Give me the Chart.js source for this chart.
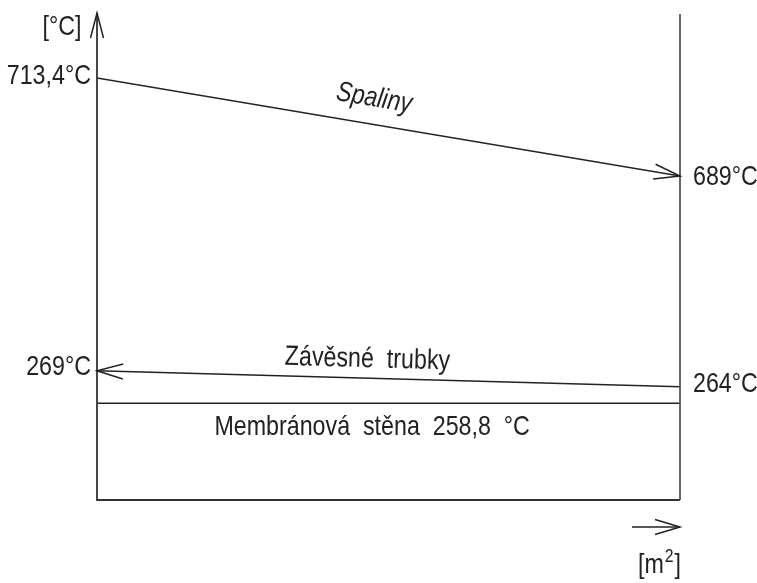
<!DOCTYPE html>
<html>
<head>
<meta charset="utf-8">
<script src="https://cdn.jsdelivr.net/npm/chart.js@4/dist/chart.umd.min.js"></script>
<style>
html,body{margin:0;padding:0;background:#fff;}
#wrap{width:757px;height:583px;position:relative;}
</style>
</head>
<body>
<div id="wrap"><canvas id="c" width="757" height="583"></canvas></div>
<script>
// ---- data (schematic temperature profile, x = relative heating surface) ----
const positions = [0, 1];                       // inlet / outlet of the surface
const spaliny = [713.4, 689];                   // flue gas [°C]
const zavesne = [269, 264];                     // hanging tubes [°C] (flow right -> left)
const membrana = [258.8, 258.8];                // membrane wall [°C]
const seriesNames = ['Spaliny', 'Závěsné trubky', 'Membránová stěna 258,8 °C'];
const leftLabels = ['713,4°C', '269°C'];
const rightLabels = ['689°C', '264°C'];
const yUnit = '[°C]';
const xUnit = ['[m', '2', ']'];   // [m²] with a real superscript

const FONT = "'Liberation Sans',Arial,sans-serif";
const SX = 0.83;   // narrow (CAD-like) lettering
const INK = '#222';

function pts(vals){ return positions.map((x,i)=>({x:x, y:vals[i]})); }

function arrowHead(ctx, tipX, tipY, fromX, fromY, len, half){
  const a = Math.atan2(tipY-fromY, tipX-fromX);
  const bx = tipX - len*Math.cos(a), by = tipY - len*Math.sin(a);
  const nx = -Math.sin(a), ny = Math.cos(a);
  ctx.beginPath();
  ctx.moveTo(bx + nx*half, by + ny*half);
  ctx.lineTo(tipX, tipY);
  ctx.lineTo(bx - nx*half, by - ny*half);
  ctx.stroke();
}

function txt(ctx, text, x, y, align, baseline, font, rot){
  ctx.save();
  ctx.translate(x, y);
  if (rot) ctx.rotate(rot);
  ctx.scale(SX, 1);
  ctx.font = font || ('28px ' + FONT);
  ctx.textAlign = align; ctx.textBaseline = baseline;
  ctx.fillText(text, 0, 0);
  ctx.restore();
}

const schema = {
  id: 'schema',
  afterDatasetsDraw(chart){
    const ctx = chart.ctx, ca = chart.chartArea;
    const xs = chart.scales.x;
    ctx.save();
    // frame
    ctx.strokeStyle = '#333'; ctx.lineWidth = 1.8; ctx.lineCap = 'butt';
    ctx.beginPath();
    ctx.moveTo(ca.left, ca.top); ctx.lineTo(ca.left, ca.bottom); ctx.lineTo(ca.right, ca.bottom);
    ctx.stroke();
    ctx.strokeStyle = '#555';
    ctx.beginPath(); ctx.moveTo(ca.right, ca.top+1); ctx.lineTo(ca.right, ca.bottom); ctx.stroke();
    // y axis arrow
    ctx.strokeStyle = INK; ctx.lineWidth = 1.5;
    arrowHead(ctx, ca.left, ca.top, ca.left, ca.top+50, 25, 6.5);
    // series arrows
    const m0 = chart.getDatasetMeta(0).data, m1 = chart.getDatasetMeta(1).data;
    arrowHead(ctx, m0[1].x, m0[1].y, m0[0].x, m0[0].y, 26, 7.5);
    arrowHead(ctx, m1[0].x, m1[0].y, m1[1].x, m1[1].y, 26, 7.5);
    // value labels
    ctx.fillStyle = INK;
    txt(ctx, leftLabels[0], ca.left - 6, m0[0].y - 2, 'right', 'middle');
    txt(ctx, leftLabels[1], ca.left - 6, m1[0].y - 3, 'right', 'middle');
    txt(ctx, rightLabels[0], ca.right + 13, m0[1].y + 1, 'left', 'middle');
    txt(ctx, rightLabels[1], ca.right + 13, m1[1].y - 2, 'left', 'middle');
    // series names along their lines
    function along(meta, t, text, off, italic){
      const p0 = meta[0], p1 = meta[1];
      const x = p0.x + (p1.x-p0.x)*t, y = p0.y + (p1.y-p0.y)*t;
      const a = Math.atan2(p1.y-p0.y, p1.x-p0.x);
      const ox = Math.sin(a)*off, oy = -Math.cos(a)*off;
      txt(ctx, text, x + ox, y + oy, 'center', 'alphabetic', (italic ? 'italic ' : '') + '28px ' + FONT, a);
    }
    along(m0, 0.468, seriesNames[0], 18, true);
    along(m1, 0.463, seriesNames[1].replace(' ', '  '), 11, false);
    // membrane label under its line
    const m2 = chart.getDatasetMeta(2).data;
    txt(ctx, seriesNames[2].split(' ').join('  '), xs.getPixelForValue(0.472), m2[0].y + 32, 'center', 'alphabetic');
    // axis units
    txt(ctx, yUnit, ca.left - 35, ca.top + 14, 'center', 'middle');
    const ux = ca.right - 42, uy = ca.bottom + 73;
    ctx.font = '28px ' + FONT;
    const w1 = ctx.measureText(xUnit[0]).width * SX;
    txt(ctx, xUnit[0], ux, uy, 'left', 'alphabetic');
    ctx.font = '19px ' + FONT;
    const w2 = ctx.measureText(xUnit[1]).width * SX;
    txt(ctx, xUnit[1], ux + w1 + 1, uy - 11, 'left', 'alphabetic', '19px ' + FONT);
    txt(ctx, xUnit[2], ux + w1 + w2 + 2, uy, 'left', 'alphabetic');
    // x direction arrow
    ctx.lineWidth = 1.5;
    ctx.beginPath(); ctx.moveTo(ca.right - 48, ca.bottom + 27); ctx.lineTo(ca.right, ca.bottom + 27); ctx.stroke();
    arrowHead(ctx, ca.right, ca.bottom + 27, ca.right - 48, ca.bottom + 27, 25, 7.5);
    ctx.restore();
  }
};

const lineStyle = {showLine:true, pointRadius:0, borderColor:INK, borderWidth:1.6, fill:false, tension:0};

new Chart(document.getElementById('c'), {
  type: 'scatter',
  data: {
    datasets: [
      Object.assign({label: seriesNames[0], data: pts(spaliny), yAxisID: 'yHot'}, lineStyle),
      Object.assign({label: seriesNames[1], data: pts(zavesne), yAxisID: 'yCold'}, lineStyle),
      Object.assign({label: seriesNames[2], data: pts(membrana), yAxisID: 'yCold'}, lineStyle, {borderWidth:1.5})
    ]
  },
  options: {
    responsive: false,
    animation: false,
    events: [],
    layout: {padding: {left: 97, right: 77, top: 13, bottom: 83}},
    plugins: {legend: {display:false}, tooltip: {enabled:false}, title: {display:false}},
    scales: {
      x: {type:'linear', min:0, max:1, display:false},
      // the drawing is schematic (broken temperature axis): upper and lower parts use their own scales
      yHot: {type:'linear', min:608.3, max:729.6, display:false},
      yCold: {type:'linear', min:228.6, max:380.8, display:false}
    }
  },
  plugins: [schema]
});
</script>
</body>
</html>
